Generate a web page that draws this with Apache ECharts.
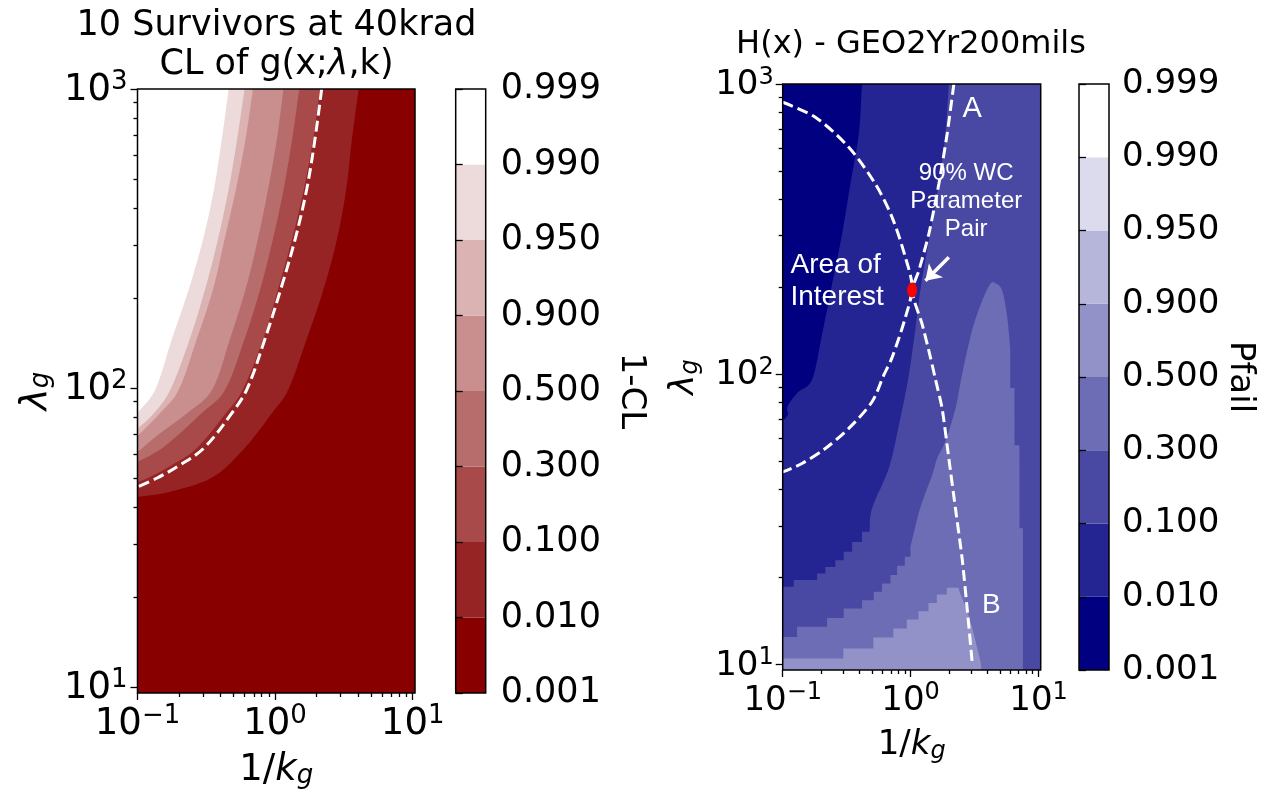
<!DOCTYPE html>
<html><head><meta charset="utf-8">
<script src="https://cdn.jsdelivr.net/npm/echarts@6/dist/echarts.min.js"></script>
<style>html,body{margin:0;padding:0;background:#fff}#c{width:1266px;height:790px}</style>
</head><body><div id="c"></div>
<script>
// ---------- axis ranges & ticks ----------
const xMin = 0.1, xMax = 10.4, yMin = 9.55, yMax = 1000;
const xMajorTicks = [0.1, 1, 10];
const xMajorExp = ['\u22121', '0', '1'];
const xMinorTicks = [0.2, 0.3, 0.4, 0.5, 0.6, 0.7, 0.8, 0.9, 2, 3, 4, 5, 6, 7, 8, 9];
const yMajorTicks = [10, 100, 1000];
const yMajorExp = ['1', '2', '3'];
const yMinorTicks = [20, 30, 40, 50, 60, 70, 80, 90, 200, 300, 400, 500, 600, 700, 800, 900];
const levelLabels = ['0.001', '0.010', '0.100', '0.300', '0.500', '0.900', '0.950', '0.990', '0.999'];
const redBands = ['#880000', '#962424', '#a84a4a', '#b86d6d', '#c98f8f', '#dbb3b3', '#eddada', '#ffffff'];
const blueBands = ['#000080', '#242492', '#4949a4', '#6d6db6', '#9292c9', '#b6b6db', '#dbdbed', '#ffffff'];

// ---------- left panel: 1-CL contour boundaries [1/k, lambda] ----------
const cl001 = [[4.05,1000],[3.62,680],[3.29,463],[2.82,315],[2.25,214],[1.7,146],[1.25,99],[0.95,82.5],[0.61,63.5],[0.354,50.4],[0.173,45],[0.1,43.2]];
const cl010 = [[2.12,1000],[1.89,680],[1.62,463],[1.33,315],[1.05,214],[0.82,146],[0.584,99],[0.44,82.5],[0.27,63],[0.178,55.3],[0.123,50.4],[0.1,48.5]];
const cl030 = [[1.5,1000],[1.33,680],[1.155,463],[0.965,315],[0.78,214],[0.6,146],[0.435,99],[0.294,82.5],[0.155,63.5],[0.1,56.6]];
const cl050 = [[1.15,1000],[1.03,680],[0.89,463],[0.75,315],[0.61,214],[0.47,146],[0.35,99],[0.23,82.5],[0.14,69.6],[0.1,61]];
const cl090 = [[0.69,1000],[0.61,680],[0.52,463],[0.43,315],[0.354,214],[0.27,146],[0.2,99],[0.146,82.5],[0.1,69]];
const cl095 = [[0.6,1000],[0.53,680],[0.46,463],[0.385,315],[0.31,214],[0.24,146],[0.174,99],[0.132,82.5],[0.1,73]];
const cl099 = [[0.46,1000],[0.41,680],[0.36,463],[0.3,315],[0.236,214],[0.178,146],[0.135,99],[0.1,82.5]];
const clDashed = [[2.18,1000],[1.95,680],[1.7,463],[1.4,315],[1.1,214],[0.845,146],[0.625,99.2],[0.486,82.5],[0.304,63],[0.204,55.3],[0.139,50],[0.1,46.7]];

// ---------- right panel: Pfail contour boundaries [1/k, lambda] ----------
const pf001 = [[0.417,1000],[0.393,672],[0.338,452],[0.291,304],[0.243,204],[0.203,137],[0.17,96],[0.132,86.7],[0.114,80],[0.108,76.3],[0.11,72.8],[0.104,69.9],[0.1,69.9]];
const pf010 = [[1.99,1000],[1.87,672],[1.66,452],[1.42,304],[1.21,204],[1.075,137],[0.956,96],[0.81,66.7],[0.675,47.4],[0.5,34.5],[0.476,28.6],[0.417,28.6],[0.417,26.4],[0.349,26.4],[0.349,24.4],[0.3,24.4],[0.3,22.8],[0.258,22.8],[0.258,21.65],[0.2155,21.65],[0.2155,20.55],[0.1855,20.55],[0.1855,19.5],[0.122,19.5],[0.122,18.5],[0.1,18.5]];
const pf030 = [[0.1,12.42],[0.1294,12.42],[0.1294,13.45],[0.2221,13.45],[0.2221,14.44],[0.3001,14.44],[0.3001,15.56],[0.4173,15.56],[0.4173,16.62],[0.5153,16.62],[0.5153,17.76],[0.5984,17.76],[0.5984,18.98],[0.6953,18.98],[0.6953,20.28],[0.7843,20.28],[0.7843,21.83],[0.9008,21.83],[0.9008,23.44],[0.9964,23.44],[0.9964,25.38],[1.187,34.5],[1.473,44.8],[1.612,51.3],[1.862,58.4],[2.242,76.1],[2.484,96.1],[2.767,120.3],[3.124,148.8],[3.627,179],[4.19,204.3],[4.584,205.9],[5.2,193.8],[5.69,156.9],[6.006,123.3],[6.006,89.5],[6.49,89.5],[6.49,56.9],[7.1,56.9],[7.1,29.4],[7.55,29.4]];
const pf050 = [[0.1,10.46],[0.298,10.46],[0.298,11.33],[0.5115,11.33],[0.5115,12.36],[0.7336,12.36],[0.7336,13.28],[0.934,13.28],[0.934,14.26],[1.151,14.26],[1.151,15.23],[1.378,15.23],[1.378,16.27],[1.603,16.27],[1.603,17.39],[1.92,17.39],[1.92,18.33],[2.366,18.33],[2.44,17.57],[2.753,15.35],[3.012,13.45],[3.296,11.47],[3.499,10.32],[3.56,9.8]];
const pfDashedAOI = [[0.1,865],[0.18,768],[0.3285,605],[0.5304,452],[0.7166,347],[0.9106,252.6],[1.027,199.1],[0.9106,156.9],[0.7166,114.2],[0.617,99.2],[0.4996,80.3],[0.3285,65],[0.2155,55.4],[0.1416,49.2],[0.1,46]];
const pfDashedAB = [[2.178,1000],[1.93,672],[1.662,452],[1.388,304],[1.159,227.1],[1.027,193.8],[1.23,148.8],[1.429,114.2],[1.563,96.1],[1.764,76.1],[1.99,51.2],[2.242,34.4],[2.529,23.1],[2.767,15.56],[3.028,10.18]];
const wcPoint = [1.027, 195];
const arrowTail = [1.99, 252.6], arrowHead = [1.305, 209.7];
const annotations = [
  {name: 'A', value: [3.03, 820]},
  {name: 'B', value: [4.27, 16]},
  {name: '90% WC\nParameter\nPair', value: [2.72, 395]},
  {name: 'Area of\nInterest', value: [0.114, 209]}
];

// ---------- build regions ----------
const rect = [[xMin,yMin],[xMax,yMin],[xMax,yMax],[xMin,yMax]];
const topLeft = pts => [[xMin, yMax]].concat(pts);
const fromBottom = pts => [[xMin, yMin]].concat(pts, [[pts[pts.length-1][0], yMin]]);
const leftRegions = [
  {pts: rect, color: redBands[0]},
  {pts: topLeft(cl001), color: redBands[1]},
  {pts: topLeft(cl010), color: redBands[2]},
  {pts: topLeft(cl030), color: redBands[3]},
  {pts: topLeft(cl050), color: redBands[4]},
  {pts: topLeft(cl090), color: redBands[5]},
  {pts: topLeft(cl095), color: redBands[6]},
  {pts: topLeft(cl099), color: redBands[7]}
];
const rightRegions = [
  {pts: rect, color: blueBands[2]},
  {pts: topLeft(pf010), color: blueBands[1]},
  {pts: topLeft(pf001), color: blueBands[0]},
  {pts: fromBottom(pf030), color: blueBands[3]},
  {pts: fromBottom(pf050), color: blueBands[4]}
];

const FF = "'DejaVu Sans', sans-serif";
const AF = "'Liberation Sans', Arial, sans-serif";
function tickRich(size, sup, lh) {
  return {
    b: {fontFamily: FF, fontSize: size, lineHeight: lh, verticalAlign: 'bottom', color: '#000'},
    s: {fontFamily: FF, fontSize: sup, lineHeight: lh, verticalAlign: 'top', color: '#000'}
  };
}
function nameRich(size, sub) {
  return {
    b: {fontFamily: FF, fontSize: size, lineHeight: 48, verticalAlign: 'top', color: '#000'},
    i: {fontFamily: FF, fontSize: size, fontStyle: 'italic', lineHeight: 48, verticalAlign: 'top', color: '#000'},
    s: {fontFamily: FF, fontSize: sub, fontStyle: 'italic', lineHeight: 48, verticalAlign: 'middle', color: '#000'}
  };
}
const findIdx = (arr, v) => arr.findIndex(t => Math.abs(Math.log10(t) - Math.log10(v)) < 1e-6);
const tickLine = {color: '#000', width: 1.3};

function mainX(g, gap, margin, fs) {
  return {type: 'log', gridIndex: g, min: xMin, max: xMax, position: 'bottom', z: 10,
    axisLine: {show: false}, splitLine: {show: false},
    axisTick: {show: true, customValues: xMajorTicks, length: 7, lineStyle: tickLine},
    axisLabel: {show: true, customValues: xMajorTicks, margin: margin,
      formatter: v => '{b|10}{s|' + xMajorExp[findIdx(xMajorTicks, v)] + '}', rich: tickRich(fs, Math.round(fs * 0.7), fs + 3)},
    name: '{b|1/}{i|k}{s|g}', nameLocation: 'middle', nameGap: gap, nameTextStyle: {rich: nameRich(fs, Math.round(fs * 0.7))}};
}
function minorX(g) {
  return {type: 'log', gridIndex: g, min: xMin, max: xMax, position: 'bottom', z: 10,
    axisLine: {show: false}, splitLine: {show: false}, axisLabel: {show: false},
    axisTick: {show: true, customValues: xMinorTicks, length: 4, lineStyle: tickLine}};
}
function mainY(g, gap, margin, fs) {
  return {type: 'log', gridIndex: g, min: yMin, max: yMax, position: 'left', z: 10,
    axisLine: {show: false}, splitLine: {show: false},
    axisTick: {show: true, customValues: yMajorTicks, length: 7, lineStyle: tickLine},
    axisLabel: {show: true, customValues: yMajorTicks, margin: margin,
      formatter: v => '{b|10}{s|' + yMajorExp[findIdx(yMajorTicks, v)] + '}', rich: tickRich(fs, Math.round(fs * 0.7), fs + 3)},
    name: '{i|\u03bb}{s|g}', nameLocation: 'middle', nameGap: gap, nameRotate: 90, nameTextStyle: {rich: nameRich(fs, Math.round(fs * 0.7))}};
}
function minorY(g) {
  return {type: 'log', gridIndex: g, min: yMin, max: yMax, position: 'left', z: 10,
    axisLine: {show: false}, splitLine: {show: false}, axisLabel: {show: false},
    axisTick: {show: true, customValues: yMinorTicks, length: 4, lineStyle: tickLine}};
}
function cbX(g) {
  return {type: 'value', gridIndex: g, min: 0, max: 1, show: false};
}
function cbY(g, name, gap, margin, fs) {
  return {type: 'value', gridIndex: g, min: 0, max: 8, interval: 1, position: 'right', z: 10,
    axisLine: {show: false}, splitLine: {show: false},
    axisTick: {show: true, length: 7, lineStyle: tickLine},
    axisLabel: {show: true, margin: margin, formatter: v => levelLabels[v],
      fontFamily: FF, fontSize: fs, color: '#000'},
    name: name, nameLocation: 'middle', nameGap: gap, nameRotate: -90,
    nameTextStyle: {fontFamily: FF, fontSize: 34, color: '#000'}};
}
// smooth (Catmull-Rom) drawing of boundary curves in pixel space; axis-aligned segments stay straight
function smoothOutline(data, px) {
  const n = data.length, out = [];
  const aligned = i => {
    const a = data[(i + n) % n], b = data[(i + 1 + n) % n];
    return a[0] === b[0] || a[1] === b[1];
  };
  for (let i = 0; i < n; i++) {
    const P1 = px[i], P2 = px[(i + 1) % n];
    out.push(P1);
    if (aligned(i)) continue;
    const P0 = px[(i - 1 + n) % n], P3 = px[(i + 2) % n];
    const c1 = aligned(i - 1) ? [P1[0] + (P2[0] - P1[0]) / 3, P1[1] + (P2[1] - P1[1]) / 3]
                              : [P1[0] + (P2[0] - P0[0]) / 6, P1[1] + (P2[1] - P0[1]) / 6];
    const c2 = aligned(i + 1) ? [P2[0] - (P2[0] - P1[0]) / 3, P2[1] - (P2[1] - P1[1]) / 3]
                              : [P2[0] - (P3[0] - P1[0]) / 6, P2[1] - (P3[1] - P1[1]) / 6];
    for (let k = 1; k < 12; k++) {
      const t = k / 12, u = 1 - t;
      out.push([
        u*u*u*P1[0] + 3*u*u*t*c1[0] + 3*u*t*t*c2[0] + t*t*t*P2[0],
        u*u*u*P1[1] + 3*u*u*t*c1[1] + 3*u*t*t*c2[1] + t*t*t*P2[1]
      ]);
    }
  }
  return out;
}
function polyRender(regions) {
  return function (params, api) {
    const r = regions[params.dataIndex];
    const px = r.pts.map(p => api.coord(p));
    return {type: 'polygon', shape: {points: smoothOutline(r.pts, px)}, style: {fill: r.color}, silent: true};
  };
}
function cbRender(bands) {
  return function (params, api) {
    const i = api.value(1);
    const p0 = api.coord([0, i]), p1 = api.coord([1, i + 1]);
    return {type: 'rect', shape: {x: p0[0], y: p1[1], width: p1[0] - p0[0], height: p0[1] - p1[1]},
      style: {fill: bands[i]}, silent: true};
  };
}
const gridBase = {show: true, borderColor: '#000', borderWidth: 1.5, backgroundColor: 'rgba(0,0,0,0)', z: 10, containLabel: false, outerBoundsMode: 'none'};
const dashed = {color: '#fff', width: 3, type: [11, 5]};
const annLabel = (extra) => Object.assign({show: true, formatter: '{b}', color: '#fff', fontFamily: AF, opacity: 1}, extra);

const option = {
  animation: false,
  backgroundColor: '#fff',
  title: [
    {text: '10 Survivors at 40krad\nCL of g(x;{i|\u03bb},k)', left: 276.5, top: 6, textAlign: 'center', padding: 0,
      textStyle: {fontFamily: FF, fontSize: 35, fontWeight: 'normal', color: '#000', lineHeight: 39,
        rich: {i: {fontFamily: FF, fontSize: 35, fontStyle: 'italic', color: '#000', lineHeight: 39}}}},
    {text: 'H(x) - GEO2Yr200mils', left: 911, top: 27, textAlign: 'center', padding: 0,
      textStyle: {fontFamily: FF, fontSize: 32, fontWeight: 'normal', color: '#000', lineHeight: 36}}
  ],
  grid: [
    Object.assign({left: 137.5, top: 89, width: 277.5, height: 604}, gridBase),
    Object.assign({left: 455.7, top: 89, width: 30, height: 604}, gridBase),
    Object.assign({left: 782.7, top: 84, width: 258, height: 586}, gridBase),
    Object.assign({left: 1079, top: 84, width: 30, height: 586}, gridBase)
  ],
  xAxis: [mainX(0, 59, 10, 37), minorX(0), cbX(1), mainX(2, 58, 11, 34), minorX(2), cbX(3)],
  yAxis: [mainY(0, 72, 10, 37), minorY(0), cbY(1, '1-CL', 128, 15, 35), mainY(2, 68, 9, 34), minorY(2), cbY(3, 'Pfail', 114, 13, 34)],
  series: [
    {type: 'custom', xAxisIndex: 0, yAxisIndex: 0, renderItem: polyRender(leftRegions),
      data: leftRegions.map(r => r.pts[0]), silent: true},
    {type: 'line', xAxisIndex: 0, yAxisIndex: 0, data: clDashed, symbol: 'none', smooth: 0.35, lineStyle: dashed, z: 5, silent: true},
    {type: 'custom', xAxisIndex: 2, yAxisIndex: 2, renderItem: cbRender(redBands),
      data: redBands.map((c, i) => [0, i]), silent: true},
    {type: 'custom', xAxisIndex: 3, yAxisIndex: 3, renderItem: polyRender(rightRegions),
      data: rightRegions.map(r => r.pts[0]), silent: true},
    {type: 'line', xAxisIndex: 3, yAxisIndex: 3, data: pfDashedAOI, symbol: 'none', smooth: 0.3, lineStyle: dashed, z: 5, silent: true},
    {type: 'line', xAxisIndex: 3, yAxisIndex: 3, data: pfDashedAB, symbol: 'none', smooth: 0.2, lineStyle: dashed, z: 5, silent: true},
    {type: 'lines', coordinateSystem: 'cartesian2d', xAxisIndex: 3, yAxisIndex: 3, z: 6, silent: true,
      symbol: ['none', 'arrow'], symbolSize: 15,
      lineStyle: {color: '#fff', width: 3.5, opacity: 1, curveness: 0},
      data: [{coords: [arrowTail, arrowHead]}]},
    {type: 'scatter', xAxisIndex: 3, yAxisIndex: 3, z: 7, silent: true, data: [wcPoint],
      symbol: 'circle', symbolSize: [10, 15], itemStyle: {color: '#ff0000', opacity: 1}},
    {type: 'scatter', xAxisIndex: 3, yAxisIndex: 3, z: 7, silent: true, symbolSize: 1,
      itemStyle: {color: 'rgba(0,0,0,0)', opacity: 1},
      data: [
        Object.assign({}, annotations[0], {label: annLabel({position: 'inside', fontSize: 29})}),
        Object.assign({}, annotations[1], {label: annLabel({position: 'inside', fontSize: 28})}),
        Object.assign({}, annotations[2], {label: annLabel({position: 'inside', fontSize: 24, lineHeight: 28, align: 'center'})}),
        Object.assign({}, annotations[3], {label: annLabel({position: 'right', distance: 0, fontSize: 28, lineHeight: 32, align: 'left'})})
      ]},
    {type: 'custom', xAxisIndex: 5, yAxisIndex: 5, renderItem: cbRender(blueBands),
      data: blueBands.map((c, i) => [0, i]), silent: true}
  ]
};
const chart = echarts.init(document.getElementById('c'), null, {renderer: 'canvas', width: 1266, height: 790});
chart.setOption(option);
</script></body></html>
